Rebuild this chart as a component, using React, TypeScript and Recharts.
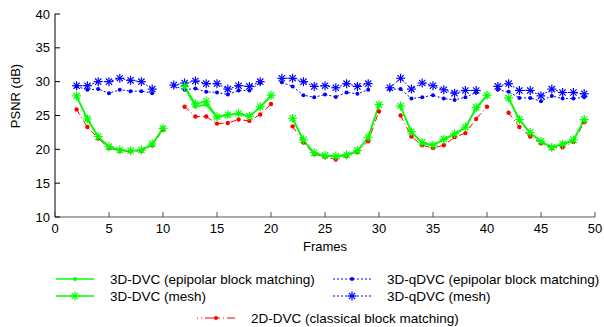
import React from 'react';
import { LineChart, Line, XAxis, YAxis } from 'recharts';

// frames 2..49, null where a sequence breaks
const frames = [
  2, 3, 4, 5, 6, 7, 8, 9, 10, 11, 12, 13, 14, 15, 16, 17, 18, 19, 20, 21, 22, 23, 24, 25,
  26, 27, 28, 29, 30, 31, 32, 33, 34, 35, 36, 37, 38, 39, 40, 41, 42, 43, 44, 45, 46, 47, 48, 49,
];

const dvcEpipolar = [
  27.8, 24.4, 21.8, 20.3, 19.9, 19.75, 19.9, 20.7, 23.1, null,
  29.2, 26.3, 26.6, 24.7, 25.1, 25.25, 24.85, 26.2, 27.9, null,
  24.5, 21.3, 19.4, 19.0, 18.9, 19.1, 19.75, 21.7, 26.5, null,
  26.3, 22.5, 20.9, 20.6, 21.4, 22.2, 23.2, 26.0, 27.9, null,
  27.5, 24.3, 22.4, 21.1, 20.3, 20.7, 21.3, 24.3,
];
const dvcMesh = [
  27.9, 24.5, 21.9, 20.4, 19.9, 19.8, 19.9, 20.8, 23.1, null,
  29.3, 26.7, 27.1, 24.8, 25.1, 25.3, 24.9, 26.3, 28.0, null,
  24.6, 21.4, 19.5, 19.1, 19.0, 19.2, 19.8, 21.8, 26.6, null,
  26.4, 22.6, 21.0, 20.6, 21.5, 22.3, 23.3, 26.2, 28.0, null,
  27.6, 24.4, 22.5, 21.2, 20.3, 20.8, 21.4, 24.4,
];
const qdvcEpipolar = [
  29.3, 28.8, 28.9, 28.3, 28.8, 28.6, 28.6, 28.3, null,
  29.4, 28.8, 29.0, 28.5, 28.4, 28.1, 28.7, 28.7, 29.85, null,
  29.9, 29.3, 28.0, 27.7, 28.1, 27.75, 28.4, 28.2, 28.8, null,
  28.9, 28.9, 27.5, 27.7, 28.0, 27.5, 27.3, 27.7, 28.4, null,
  28.8, 28.5, 27.6, 27.6, 27.1, 27.9, 27.5, 27.5, 27.7,
];
const qdvcMesh = [
  29.4, 29.4, 30.0, 30.0, 30.5, 30.2, 30.0, 28.9, null,
  29.5, 29.8, 30.1, 29.7, 29.7, 28.9, 29.4, 29.3, 30.0, null,
  30.5, 30.5, 30.0, 29.3, 29.4, 29.1, 29.7, 29.3, 29.7, null,
  29.1, 30.5, 28.9, 29.8, 29.4, 28.8, 28.3, 28.7, 28.7, null,
  29.3, 29.7, 28.7, 28.7, 27.9, 28.9, 28.4, 28.4, 28.2,
];
const dvc2d = [
  25.9, 23.3, 21.6, 20.2, 19.8, 19.7, 19.8, 20.6, 22.9, null,
  26.3, 24.85, 24.85, 23.8, 23.9, 24.4, 24.2, 25.15, 26.7, null,
  23.4, 21.0, 19.3, 18.9, 18.5, 19.0, 19.6, 21.2, 25.6, null,
  25.0, 21.9, 20.6, 20.2, 20.6, 21.8, 22.4, 24.5, 26.3, null,
  25.4, 23.3, 21.9, 20.9, 20.2, 20.3, 21.1, 24.0,
];

const xTicks = [0, 5, 10, 15, 20, 25, 30, 35, 40, 45, 50];
const yTicks = [10, 15, 20, 25, 30, 35, 40];

const data = frames.map((f, i) => ({
  frame: f,
  dvcEpi: dvcEpipolar[i],
  dvcMesh: dvcMesh[i],
  qEpi: qdvcEpipolar[i],
  qMesh: qdvcMesh[i],
  d2: dvc2d[i],
}));

const GREEN = '#00ff00';
const BLUE = '#0000ff';
const RED = '#ff0000';
const FONT = '"Liberation Sans", Arial, sans-serif';

const Asterisk = ({ cx, cy, color, r = 4.5 }: any) => {
  const d = r * 0.7;
  return (
    <g stroke={color} strokeWidth={1.2}>
      <line x1={cx - r} y1={cy} x2={cx + r} y2={cy} />
      <line x1={cx} y1={cy - r} x2={cx} y2={cy + r} />
      <line x1={cx - d} y1={cy - d} x2={cx + d} y2={cy + d} />
      <line x1={cx - d} y1={cy + d} x2={cx + d} y2={cy - d} />
    </g>
  );
};

const makeDot = (color: string, star: boolean, r = 2) => (props: any) => {
  const { cx, cy, index, value } = props;
  if (value == null || cx == null || cy == null) return <g key={`n-${index}`} />;
  if (star) return <Asterisk key={`s-${index}`} cx={cx} cy={cy} color={color} />;
  return <circle key={`c-${index}`} cx={cx} cy={cy} r={r} fill={color} stroke="none" />;
};

const XTick = ({ x, y, payload }: any) => (
  <g>
    <line x1={x} y1={y} x2={x} y2={y - 5} stroke="#555" />
    <text x={x} y={y + 16} textAnchor="middle" fontSize={13} fontFamily={FONT} fill="#000">
      {payload.value}
    </text>
  </g>
);

const YTick = ({ x, y, payload }: any) => (
  <g>
    <line x1={x} y1={y} x2={x + 5} y2={y} stroke="#000" />
    <text x={x - 5} y={y + 4.5} textAnchor="end" fontSize={13} fontFamily={FONT} fill="#000">
      {payload.value}
    </text>
  </g>
);

const LegendItem = ({ left, top, label, color, dash, star, dotR = 2 }: any) => (
  <div style={{ position: 'absolute', left, top, display: 'flex', alignItems: 'center', height: 16 }}>
    <svg width={40} height={12} style={{ display: 'block' }}>
      <line x1={1} y1={6} x2={39} y2={6} stroke={color} strokeWidth={color === GREEN ? 1.5 : 1} strokeDasharray={dash} />
      {star ? <Asterisk cx={20} cy={6} color={color} /> : <circle cx={20} cy={6} r={dotR} fill={color} />}
    </svg>
    <span style={{ marginLeft: 15, fontSize: 13.5, fontFamily: FONT, color: '#000', whiteSpace: 'nowrap' }}>{label}</span>
  </div>
);

export default function App() {
  return (
    <div style={{ position: 'absolute', left: 0, top: 0, width: 604, height: 327, background: '#fff' }}>
      <LineChart width={604} height={327} data={data} margin={{ top: 14, right: 9, bottom: 80, left: 15 }}>
        <XAxis
          dataKey="frame"
          type="number"
          domain={[0, 50]}
          ticks={xTicks}
          height={30}
          stroke="#555"
          tickSize={0}
          tickMargin={0}
          tickLine={false}
          tick={<XTick />}
          interval={0}
        />
        <YAxis
          type="number"
          domain={[10, 40]}
          ticks={yTicks}
          width={40}
          stroke="#000"
          tickSize={0}
          tickMargin={0}
          tickLine={false}
          tick={<YTick />}
          interval={0}
        />
        <Line dataKey="qEpi" stroke={BLUE} strokeWidth={1} strokeDasharray="2 2" dot={makeDot(BLUE, false)} isAnimationActive={false} connectNulls={false} />
        <Line dataKey="qMesh" stroke={BLUE} strokeWidth={1} strokeDasharray="2 2" dot={makeDot(BLUE, true)} isAnimationActive={false} connectNulls={false} />
        <Line dataKey="d2" stroke={RED} strokeWidth={1} strokeDasharray="6 3 1 3" dot={makeDot(RED, false, 2.2)} isAnimationActive={false} connectNulls={false} />
        <Line dataKey="dvcEpi" stroke={GREEN} strokeWidth={1.5} dot={makeDot(GREEN, false)} isAnimationActive={false} connectNulls={false} />
        <Line dataKey="dvcMesh" stroke={GREEN} strokeWidth={1.5} dot={makeDot(GREEN, true)} isAnimationActive={false} connectNulls={false} />
      </LineChart>

      <div
        style={{
          position: 'absolute', left: 15, top: 96, transform: 'translate(-50%, -50%) rotate(-90deg)',
          fontSize: 13, fontFamily: FONT, whiteSpace: 'nowrap', color: '#000',
        }}
      >
        PSNR (dB)
      </div>
      <div
        style={{
          position: 'absolute', left: 325, top: 246, transform: 'translate(-50%, -50%)',
          fontSize: 13, fontFamily: FONT, color: '#000',
        }}
      >
        Frames
      </div>

      <LegendItem left={55} top={271} label="3D-DVC (epipolar block matching)" color={GREEN} />
      <LegendItem left={55} top={288} label="3D-DVC (mesh)" color={GREEN} star />
      <LegendItem left={332} top={271} label="3D-qDVC (epipolar block matching)" color={BLUE} dash="2 2" />
      <LegendItem left={332} top={288} label="3D-qDVC (mesh)" color={BLUE} dash="2 2" star />
      <LegendItem left={196} top={310} label="2D-DVC (classical block matching)" color={RED} dash="1 3 1 3 14 0" />
    </div>
  );
}
